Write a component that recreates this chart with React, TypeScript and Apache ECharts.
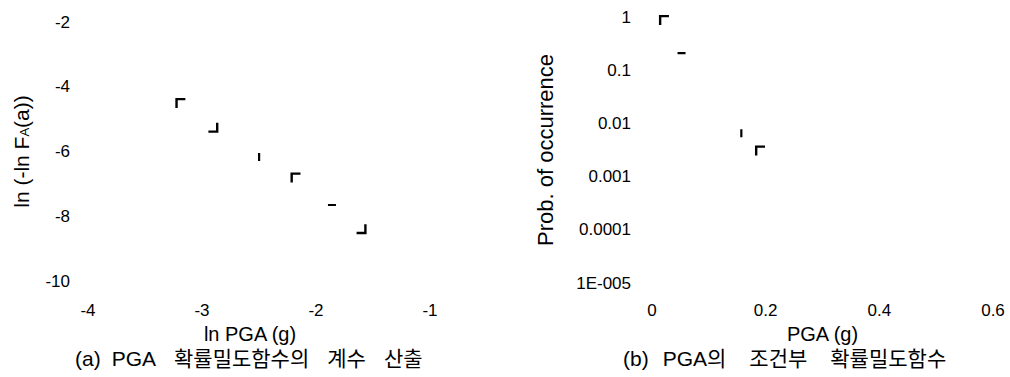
import React, { useEffect, useRef } from "react";
import * as echarts from "echarts";

// ---- data ----
const lnPga: number[] = [-3.19, -2.9, -2.5, -2.18, -1.86, -1.6];
const lnLnF: number[] = [-4.5, -5.27, -6.17, -6.8, -7.65, -8.4];
const leftMarks: string[] = ["tl", "br", "v", "tl", "h", "br"];

const pga: number[] = [0.021, 0.052, 0.157, 0.19];
const prob: number[] = [0.88, 0.21, 0.0065, 0.0031];
const rightMarks: string[] = ["tl", "h", "v", "tl"];

const leftXTicks: number[] = [-4, -3, -2, -1];
const leftYTicks: number[] = [-10, -8, -6, -4, -2];
const rightXTicks: number[] = [0, 0.2, 0.4, 0.6];
const rightYTickLabels: Record<string, string> = {
  "1": "1",
  "0.1": "0.1",
  "0.01": "0.01",
  "0.001": "0.001",
  "0.0001": "0.0001",
  "0.00001": "1E-005",
};

const captionA: string[] = ["(a)", "PGA", "확률밀도함수의", "계수", "산출"];
const captionB: string[] = ["(b)", "PGA의", "조건부", "확률밀도함수"];

// fragment-of-square marker shapes (bounding box kept at 10x10)
const BOX = "M0,0 L0.01,0 L0,0.01 Z M10,10 L9.99,10 L10,9.99 Z ";
const SHAPES: Record<string, string> = {
  tl: "path://" + BOX + "M0,0 L10,0 L10,2.4 L2.4,2.4 L2.4,10 L0,10 Z",
  br: "path://" + BOX + "M10,0 L10,10 L0,10 L0,7.6 L7.6,7.6 L7.6,0 Z",
  v: "path://" + BOX + "M4,1 L6.2,1 L6.2,9 L4,9 Z",
  h: "path://" + BOX + "M1,4 L9,4 L9,6.2 L1,6.2 Z",
};

const FONT = "'Liberation Sans', Arial, sans-serif";
const KFONT = "'Liberation Sans', 'Noto Sans CJK KR', sans-serif";

function caption(words: string[], gaps: number[]) {
  let s = "";
  words.forEach((w, i) => {
    s += "{t|" + w + "}";
    if (i < words.length - 1) s += "{g" + i + "| }";
  });
  const rich: any = { t: { fontSize: 21, fontFamily: KFONT, fill: "#000", lineHeight: 22 } };
  gaps.forEach((g, i) => {
    rich["g" + i] = { width: g, fontSize: 21, fontFamily: KFONT, lineHeight: 22 };
  });
  return { text: s, rich };
}

export default function App() {
  const ref = useRef<HTMLDivElement>(null);
  useEffect(() => {
    if (!ref.current) return;
    const chart = echarts.init(ref.current, undefined, { renderer: "svg" });
    const tickLabel = { color: "#000", fontSize: 17, fontFamily: FONT };
    const nameStyle = { color: "#000", fontSize: 20, fontFamily: FONT, lineHeight: 20 };
    const hidden = {
      axisLine: { show: false },
      axisTick: { show: false },
      splitLine: { show: false },
    };
    const capA = caption(captionA, [11, 18, 18, 18]);
    const capB = caption(captionB, [14, 23, 23]);
    const option: any = {
      animation: false,
      backgroundColor: "#fff",
      grid: [
        { left: 88, top: 22, width: 342, height: 259 },
        { left: 652, top: 17, width: 341, height: 266 },
      ],
      xAxis: [
        {
          gridIndex: 0,
          type: "value",
          min: leftXTicks[0],
          max: leftXTicks[leftXTicks.length - 1],
          interval: 1,
          ...hidden,
          axisLabel: { ...tickLabel, margin: 21 },
          name: "ln PGA (g)",
          nameLocation: "middle",
          nameGap: 35,
          nameTextStyle: { ...nameStyle, padding: [0, 18, 0, 0] },
        },
        {
          gridIndex: 1,
          type: "value",
          min: rightXTicks[0],
          max: rightXTicks[rightXTicks.length - 1],
          interval: 0.2,
          ...hidden,
          axisLabel: { ...tickLabel, margin: 19 },
          name: "PGA (g)",
          nameLocation: "middle",
          nameGap: 33,
          nameTextStyle: nameStyle,
        },
      ],
      yAxis: [
        {
          gridIndex: 0,
          type: "value",
          min: leftYTicks[0],
          max: leftYTicks[leftYTicks.length - 1],
          interval: 2,
          ...hidden,
          axisLabel: { ...tickLabel, margin: 18 },
          name: "{a|ln (-ln F}{s|A}{a|(a))}",
          nameLocation: "middle",
          nameGap: 57,
          nameTextStyle: {
            ...nameStyle,
            rich: {
              a: { fontSize: 21, fontFamily: FONT, color: "#000" },
              s: { fontSize: 13, fontFamily: FONT, color: "#000", verticalAlign: "bottom", padding: [10, 0, 0, 0] },
            },
          },
        },
        {
          gridIndex: 1,
          type: "log",
          logBase: 10,
          min: 0.00001,
          max: 1,
          ...hidden,
          axisLabel: {
            ...tickLabel,
            margin: 21,
            formatter: (v: number) => {
              const key = String(Number(v.toPrecision(3)));
              const k2 = v < 0.0001 ? "0.00001" : key;
              return rightYTickLabels[k2] ?? key;
            },
          },
          name: "Prob. of occurrence",
          nameLocation: "middle",
          nameGap: 96,
          nameTextStyle: { ...nameStyle, fontSize: 22, lineHeight: 22 },
        },
      ],
      series: [
        {
          type: "scatter",
          xAxisIndex: 0,
          yAxisIndex: 0,
          data: lnPga.map((x, i) => ({
            value: [x, lnLnF[i]],
            symbol: SHAPES[leftMarks[i]],
          })),
          symbolSize: 10,
          itemStyle: { color: "#000", opacity: 1 },
        },
        {
          type: "scatter",
          xAxisIndex: 1,
          yAxisIndex: 1,
          data: pga.map((x, i) => ({
            value: [x, prob[i]],
            symbol: SHAPES[rightMarks[i]],
          })),
          symbolSize: 10,
          itemStyle: { color: "#000", opacity: 1 },
        },
      ],
      graphic: [
        {
          type: "text",
          left: 75,
          top: 348,
          style: { ...capA, fill: "#000" },
        },
        {
          type: "text",
          left: 623,
          top: 348,
          style: { ...capB, fill: "#000" },
        },
      ],
    };
    chart.setOption(option);
    return () => chart.dispose();
  }, []);
  return (
    <div
      ref={ref}
      style={{ position: "fixed", left: 0, top: 0, width: 1010, height: 377 }}
    />
  );
}
